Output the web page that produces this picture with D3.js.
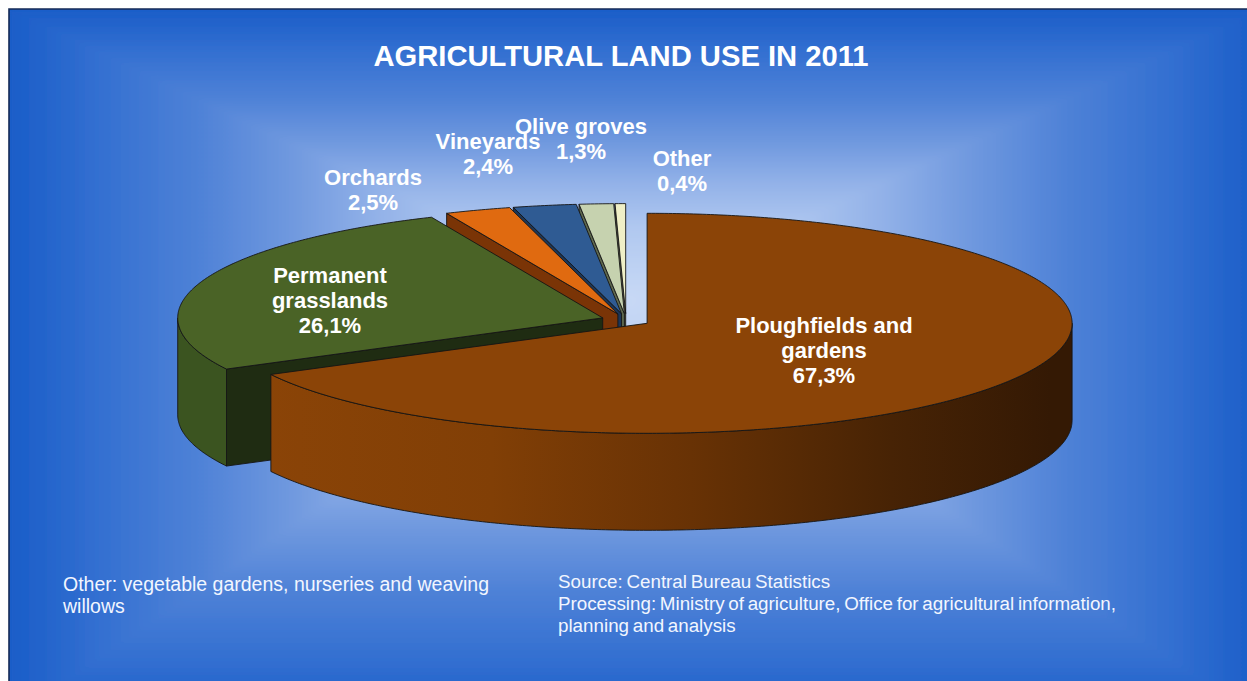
<!DOCTYPE html>
<html>
<head>
<meta charset="utf-8">
<script src="https://cdn.jsdelivr.net/npm/d3@7"></script>
<style>
  html, body { margin: 0; padding: 0; background: #ffffff; overflow: hidden; }
  svg { display: block; }
  text { font-family: "Liberation Sans", Arial, sans-serif; }
</style>
</head>
<body>
<svg id="chart" width="1247" height="681"></svg>
<script>
// ---- data -------------------------------------------------------------
const categories = ["Ploughfields and gardens", "Permanent grasslands", "Orchards", "Vineyards", "Olive groves", "Other"];
const labelLines = [["Ploughfields and", "gardens"], ["Permanent", "grasslands"], ["Orchards"], ["Vineyards"], ["Olive groves"], ["Other"]];
const shares = [67.3, 26.1, 2.5, 2.4, 1.3, 0.4];
const topColors = ["#8b4407", "#4a6326", "#e06a10", "#2f5b93", "#c6d2af", "#efefc6"];
const wallColors = ["url(#ploughWall)", "#3b5420", "#a04c0a", "#234874", "#9aa486", "#c0c09a"];
const sideColors = ["#5a2a04", "#1f2c12", "#7a3406", "#1c3658", "#5f6a4f", "#6a6a50"];
const titleText = "AGRICULTURAL LAND USE IN 2011";
const noteLeft = ["Other: vegetable gardens, nurseries and weaving", "willows"];
const noteRight = ["Source: Central Bureau Statistics",
  "Processing: Ministry of agriculture, Office for agricultural information,",
  "planning and analysis"];

// ---- layout -----------------------------------------------------------
const W = 1247, H = 681;
const svg = d3.select("#chart");
const defs = svg.append("defs");

const panel = { x0: 9, y0: 9, x1: 1262, y1: 720, cx: 625, cy: 300 };

// rectangular "path" gradient built from four triangles sharing one ramp
function grad(id, x1, y1, x2, y2, stops) {
  const g = defs.append("linearGradient").attr("id", id)
    .attr("gradientUnits", "userSpaceOnUse")
    .attr("x1", x1).attr("y1", y1).attr("x2", x2).attr("y2", y2);
  stops.forEach(([o, c]) => g.append("stop").attr("offset", o).attr("stop-color", c));
}
const ramp = [[0, "#1a5dc8"], [0.15, "#3470d1"], [0.31, "#4f82d7"], [0.46, "#7099df"],
  [0.6, "#93b2e8"], [0.75, "#b0c8f0"], [1, "#c8d9f5"]];
const P = panel;
grad("bgLeft", P.x0, 0, P.cx, 0, ramp);
grad("bgRight", P.x1, 0, P.cx, 0, ramp);
grad("bgTop", 0, P.y0, 0, P.cy, ramp);
grad("bgBottom", 0, P.y1, 0, P.cy, ramp);

defs.append("clipPath").attr("id", "panelClip").append("rect")
  .attr("x", P.x0).attr("y", P.y0).attr("width", P.x1 - P.x0).attr("height", P.y1 - P.y0);
defs.append("filter").attr("id", "soft")
  .attr("x", -0.05).attr("y", -0.05).attr("width", 1.1).attr("height", 1.1)
  .append("feGaussianBlur").attr("stdDeviation", 3);

const bg = svg.append("g").attr("clip-path", "url(#panelClip)");
bg.append("rect").attr("x", P.x0).attr("y", P.y0)
  .attr("width", P.x1 - P.x0).attr("height", P.y1 - P.y0).attr("fill", "#1a5dc8");
const bgInner = bg.append("g").attr("filter", "url(#soft)");
const tri = (pts, fill) => bgInner.append("path")
  .attr("d", d3.line()(pts) + "Z").attr("fill", fill).attr("stroke", fill).attr("stroke-width", 1);
tri([[P.x0, P.y0], [P.x1, P.y0], [P.cx, P.cy]], "url(#bgTop)");
tri([[P.x0, P.y1], [P.x1, P.y1], [P.cx, P.cy]], "url(#bgBottom)");
tri([[P.x0, P.y0], [P.x0, P.y1], [P.cx, P.cy]], "url(#bgLeft)");
tri([[P.x1, P.y0], [P.x1, P.y1], [P.cx, P.cy]], "url(#bgRight)");
svg.append("path")
  .attr("d", `M${P.x0},${H + 2}V${P.y0}H${W + 2}`)
  .attr("fill", "none").attr("stroke", "#142a55").attr("stroke-width", 1.6);

// ---- 3D pie -----------------------------------------------------------
const cx = 626, cy = 320, rx = 425, ry = 110, depth = 97, explode = 0.058;
const xScale = d3.scaleLinear().domain([-1, 1]).range([cx - rx, cx + rx]);
const yScale = d3.scaleLinear().domain([-1, 1]).range([cy + ry, cy - ry]);

grad("ploughWall", cx - rx * 0.88, 0, cx + rx, 0,
  [[0, "#8b4407"], [0.3, "#813f06"], [0.55, "#683205"], [0.8, "#472305"], [1, "#341904"]]);

const arcs = d3.pie().sort(null).startAngle(0).endAngle(2 * Math.PI)(shares)
  .map((d, i) => {
    const mid = (d.startAngle + d.endAngle) / 2;
    return { ...d, i, mid, ox: explode * Math.sin(mid), oy: explode * Math.cos(mid) };
  });

function pt(s, a, r, h) {
  return [xScale(s.ox + r * Math.sin(a)), yScale(s.oy + r * Math.cos(a)) + h];
}
function arcPts(s, a0, a1, h) {
  const n = Math.max(2, Math.ceil((a1 - a0) / 0.01));
  return d3.range(n + 1).map(k => pt(s, a0 + (a1 - a0) * k / n, 1, h));
}
const line = d3.line();
const pie = svg.append("g").attr("stroke", "#151515").attr("stroke-width", 0.9)
  .attr("stroke-linejoin", "round");

// back slices first, front slices last
const order = arcs.slice().sort((a, b) => Math.cos(b.mid) - Math.cos(a.mid));
order.forEach(s => {
  const g = pie.append("g");
  const a0 = s.startAngle, a1 = s.endAngle;
  // cut face at the start angle
  if (Math.sin(a0) < -1e-6) {
    g.append("path").attr("fill", sideColors[s.i])
      .attr("d", line([pt(s, a0, 0, 0), pt(s, a0, 1, 0), pt(s, a0, 1, depth), pt(s, a0, 0, depth)]) + "Z");
  }
  // cut face at the end angle
  if (Math.sin(a1) > 1e-6) {
    g.append("path").attr("fill", sideColors[s.i])
      .attr("d", line([pt(s, a1, 0, 0), pt(s, a1, 1, 0), pt(s, a1, 1, depth), pt(s, a1, 0, depth)]) + "Z");
  }
  // outer rim, front half only
  const lo = Math.max(a0, Math.PI / 2), hi = Math.min(a1, 3 * Math.PI / 2);
  if (lo < hi) {
    const rim = arcPts(s, lo, hi, 0).concat(arcPts(s, lo, hi, depth).reverse());
    g.append("path").attr("fill", wallColors[s.i]).attr("d", line(rim) + "Z");
  }
  // top face
  const top = [pt(s, 0, 0, 0)].concat(arcPts(s, a0, a1, 0));
  g.append("path").attr("fill", topColors[s.i]).attr("d", line(top) + "Z");
});

// ---- labels -----------------------------------------------------------
const fmt = d3.formatLocale({ decimal: ",", thousands: ".", grouping: [3], currency: ["", ""] }).format(".1f");
const labelAt = [[824, 333], [330, 283], [373, 185], [488, 149], [581, 134], [682, 166]];
const lineGap = 25;
arcs.forEach(s => {
  const lines = labelLines[s.i].concat([fmt(shares[s.i]) + "%"]);
  const t = svg.append("text")
    .attr("x", labelAt[s.i][0]).attr("y", labelAt[s.i][1])
    .attr("text-anchor", "middle").attr("fill", "#ffffff")
    .attr("font-size", 22).attr("font-weight", "bold");
  lines.forEach((l, k) => t.append("tspan").attr("x", labelAt[s.i][0]).attr("dy", k ? lineGap : 0).text(l));
});

svg.append("text").attr("x", 621).attr("y", 66).attr("text-anchor", "middle")
  .attr("fill", "#ffffff").attr("font-size", 29.2).attr("font-weight", "bold").text(titleText);

function note(lines, x, y, size, wordGap) {
  const t = svg.append("text").attr("x", x).attr("y", y)
    .attr("fill", "#f2f6ff").attr("font-size", size).attr("word-spacing", wordGap);
  lines.forEach((l, k) => t.append("tspan").attr("x", x).attr("dy", k ? 22 : 0).text(l));
}
note(noteLeft, 63, 591, 19.5, 0);
note(noteRight, 558, 588, 18.8, -1.5);
</script>
</body>
</html>
